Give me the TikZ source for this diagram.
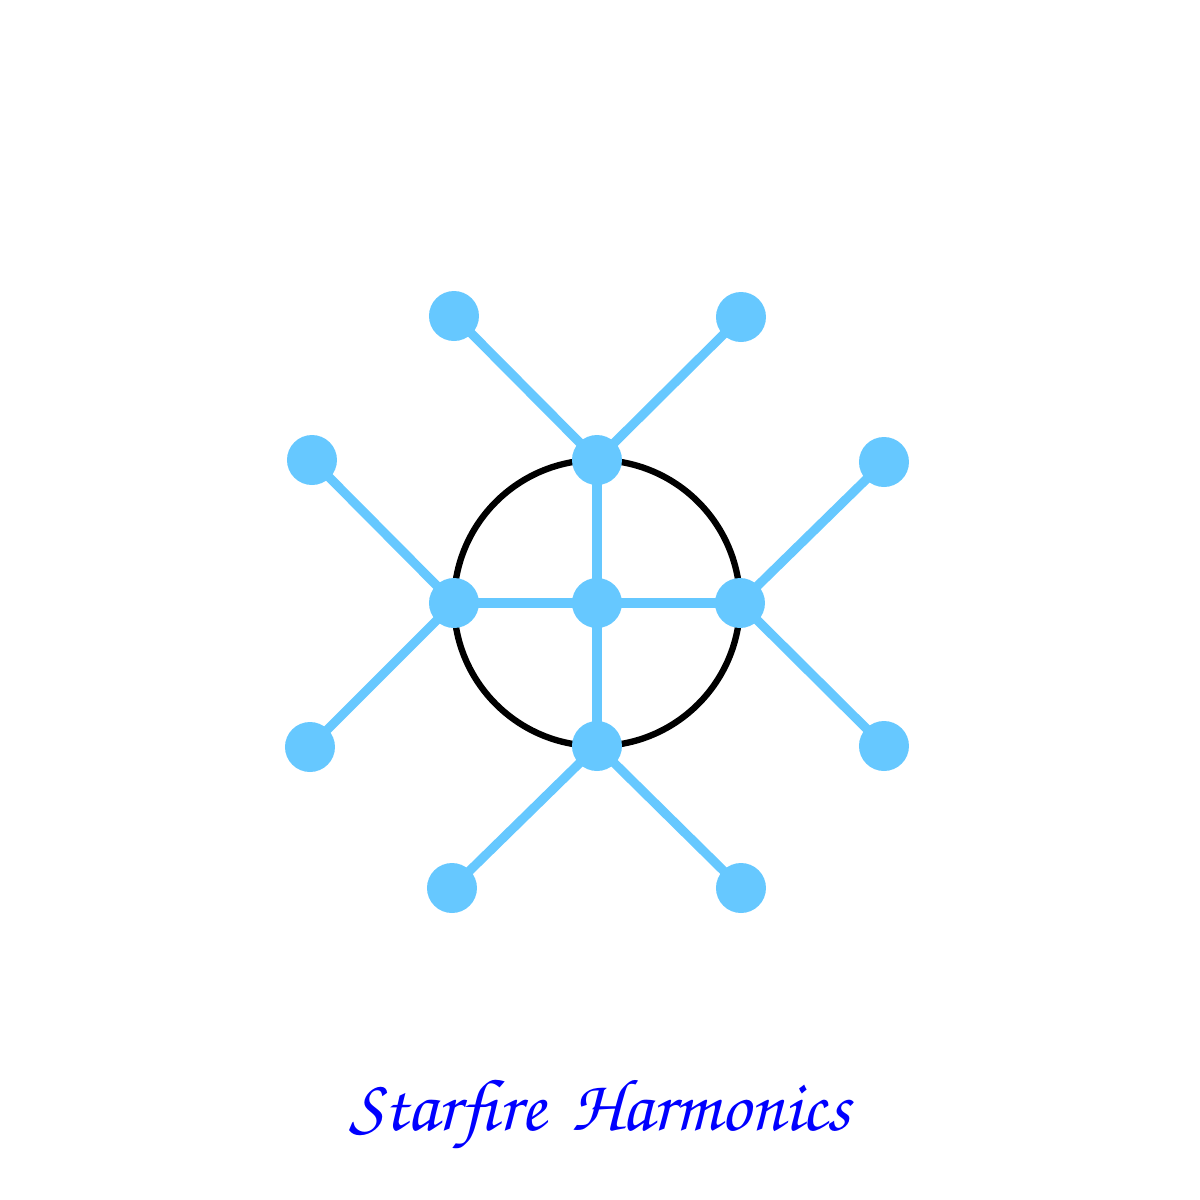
\documentclass[tikz,border=0pt]{standalone}
\usepackage[T1]{fontenc}
\definecolor{skyblue}{RGB}{102,200,255}
\definecolor{titleblue}{RGB}{0,0,255}
\tikzset{
  atom/.style={circle, fill=skyblue, inner sep=0pt, minimum size=0.5cm},
  bond/.style={draw=skyblue, line width=2.6pt, shorten <=-2pt, shorten >=-2pt}
}
\begin{document}
\begin{tikzpicture}
        \useasboundingbox (-5.97, -5.97) rectangle (6.03, 6.03);

        \coordinate (O) at (0, 0);

        % Circle
        \draw[line width=1.8pt] (O) circle (1.43cm);

        % Atoms on the circle
        \node[atom] (C) at (O) {};
        \node[atom] (T) at (90:1.43) {};
        \node[atom] (L) at (180:1.43) {};
        \node[atom] (B) at (270:1.43) {};
        \node[atom] (R) at (0:1.43) {};

        % Outer atoms
        \node[atom] (T1) at (-1.43, 2.87) {};
        \node[atom] (T2) at (1.44, 2.86) {};
        \node[atom] (L1) at (-2.85, 1.43) {};
        \node[atom] (L2) at (-2.87, -1.44) {};
        \node[atom] (R1) at (2.87, 1.41) {};
        \node[atom] (R2) at (2.87, -1.43) {};
        \node[atom] (B1) at (-1.45, -2.85) {};
        \node[atom] (B2) at (1.44, -2.85) {};

        % Bonds
        \foreach \a/\b in {C/T, C/L, C/B, C/R, T/T1, T/T2, L/L1, L/L2, R/R1, R/R2, B/B1, B/B2}
            \draw[bond] (\a) -- (\b);

        % Title
        \node[text=titleblue, font=\fontfamily{pzc}\fontseries{mb}\fontshape{it}\fontsize{21}{26}\selectfont] (title) at (0.03, -5.13) {Starfire\hspace{0.35em}Harmonics};

    \end{tikzpicture}
\end{document}
